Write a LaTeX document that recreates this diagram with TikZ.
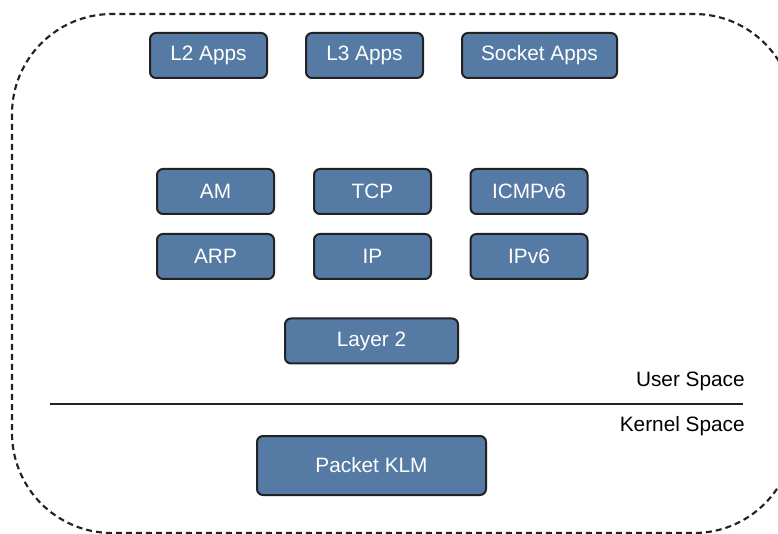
\documentclass[tikz,border=0pt]{standalone}
\usepackage{fontspec}
\setmainfont{Liberation Sans}

\definecolor{boxblue}{HTML}{557AA4}
\definecolor{edge}{HTML}{222222}

\tikzset{
	modbox/.style={draw=edge, line width=1.5pt, fill=boxblue, rounded corners=4.5pt,
		text=white, font=\fontsize{15.6}{18}\selectfont, inner sep=0pt,
		minimum height=33.75pt},
	spacelabel/.style={anchor=east, text=black, font=\fontsize{15.6}{18}\selectfont, inner sep=0pt}
}

\begin{document}
\begin{tikzpicture}[x=0.75pt, y=-0.75pt]

		\useasboundingbox (0,0) rectangle (778,534);

		% outer dashed frame
		\begin{scope}
			\clip (0,0) rectangle (778,534);
			\draw[edge, line width=1.6pt, dash pattern=on 4.5pt off 3pt, rounded corners=75pt]
				(12,14) rectangle (794,533);
		\end{scope}

		% applications
		\node[modbox, minimum width=87.75pt] (l2apps) at (208.5,55.5) {L2 Apps};
		\node[modbox, minimum width=87.75pt] (l3apps) at (364.5,55.5) {L3 Apps};
		\node[modbox, minimum width=116.25pt] (sockapps) at (539.5,55.5) {Socket Apps};

		% protocols
		\node[modbox, minimum width=87.75pt] (am) at (215.5,191.5) {AM};
		\node[modbox, minimum width=87.75pt] (tcp) at (372.5,191.5) {TCP};
		\node[modbox, minimum width=87.75pt] (icmp) at (529,191.5) {ICMPv6};

		\node[modbox, minimum width=87.75pt] (arp) at (215.5,256.5) {ARP};
		\node[modbox, minimum width=87.75pt] (ip) at (372.5,256.5) {IP};
		\node[modbox, minimum width=87.75pt] (ipv6) at (529,256.5) {IPv6};

		\node[modbox, minimum width=129.75pt] (layer2) at (371.5,341) {Layer 2};

		% user / kernel boundary
		\coordinate (divl) at (50,404);
		\coordinate (divr) at (743,404);
		\draw[edge, line width=1.2pt] (divl) -- (divr);
		\node[spacelabel] (user) at (745,381) {User Space};
		\node[spacelabel] (kernel) at (745,426) {Kernel Space};

		% kernel module
		\node[modbox, minimum width=171.75pt, minimum height=44.25pt] (klm) at (371.5,465.5) {Packet KLM};

	\end{tikzpicture}
\end{document}
